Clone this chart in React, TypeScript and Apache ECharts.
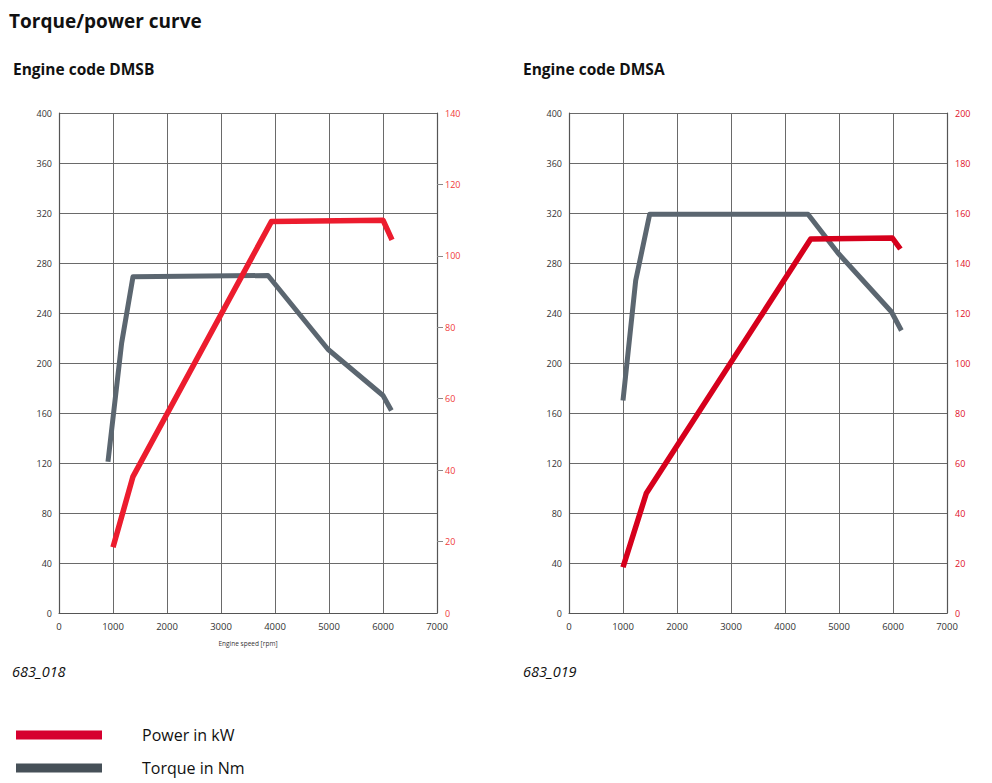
import React, { useEffect, useRef } from "react";
import * as echarts from "echarts";

// Engine speed (rpm) / value pairs
const dmsbTorque: [number, number][] = [
  [907, 121], [1160, 216], [1370, 269], [3870, 270], [4980, 211], [6000, 174], [6155, 162],
];
const dmsbPower: [number, number][] = [
  [1000, 18.4], [1370, 38.2], [3933, 109.6], [6000, 110], [6167, 104.5],
];
const dmsaTorque: [number, number][] = [
  [1000, 170], [1235, 266], [1494, 319], [4426, 319], [4981, 288], [5970, 241], [6155, 226],
];
const dmsaPower: [number, number][] = [
  [1000, 18.3], [1432, 47.9], [4476, 149.6], [5988, 150], [6137, 145.6],
];

const legendNames = ["Power in kW", "Torque in Nm"];
const headings = ["Torque/power curve", "Engine code DMSB", "Engine code DMSA"];
const figureCodes = ["683_018", "683_019"];
const xAxisName = "Engine speed [rpm]";

const FONT = "'Open Sans', 'Noto Sans', sans-serif";
const GRID_COLOR = "#6a6a6a";
const AXIS_COLOR = "#555";
const TORQUE_COLOR = "#5b6670";
const POWER_LEFT = "#ec1c2e";
const POWER_RIGHT = "#d6001c";

export default function App() {
  const ref = useRef<HTMLDivElement>(null);

  useEffect(() => {
    if (!ref.current) return;
    const chart = echarts.init(ref.current, undefined, { renderer: "svg" });

    const plain = (v: number) => String(v);

    const xAxisBase = (gridIndex: number, withName: boolean) => ({
      type: "value",
      gridIndex,
      min: 0,
      max: 7000,
      interval: 1000,
      name: withName ? xAxisName : "",
      nameLocation: "middle",
      nameGap: 27,
      nameTextStyle: { fontSize: 6.5, color: "#333", fontFamily: FONT },
      axisLine: { show: true, lineStyle: { color: AXIS_COLOR, width: 1.2 } },
      axisTick: { show: false },
      axisLabel: { fontSize: 9.5, color: "#333", margin: 8, fontFamily: FONT, formatter: plain },
      splitLine: { show: true, lineStyle: { color: GRID_COLOR, width: 1 } },
    });

    const leftY = (gridIndex: number) => ({
      type: "value",
      gridIndex,
      min: 0,
      max: 400,
      interval: 40,
      position: "left",
      axisLine: { show: true, lineStyle: { color: AXIS_COLOR, width: 1.2 } },
      axisTick: { show: false },
      axisLabel: { fontSize: 9, color: "#333", margin: 7, fontFamily: FONT, formatter: plain },
      splitLine: { show: true, lineStyle: { color: GRID_COLOR, width: 1 } },
    });

    const rightY = (gridIndex: number, max: number, color: string, ticks: boolean) => ({
      type: "value",
      gridIndex,
      min: 0,
      max,
      interval: 20,
      position: "right",
      axisLine: { show: true, onZero: false, lineStyle: { color: AXIS_COLOR, width: 1.2 } },
      axisTick: {
        show: ticks,
        inside: false,
        length: 6,
        customValues: [20, 40, 60, 80, 100, 120],
        lineStyle: { color: "#888", width: 1 },
      },
      axisLabel: { fontSize: 9, color, margin: 8, fontFamily: FONT, formatter: plain },
      splitLine: { show: false },
    });

    const lineSeries = (
      name: string,
      data: [number, number][],
      xi: number,
      yi: number,
      color: string,
      width: number
    ) => ({
      type: "line",
      name,
      data,
      xAxisIndex: xi,
      yAxisIndex: yi,
      showSymbol: false,
      symbol: "none",
      lineStyle: { color, width, join: "round", cap: "butt" },
      itemStyle: { color },
      z: 3,
    });

    const titleText = (text: string, left: number, top: number, size: number, bold: boolean, italic = false) => ({
      text,
      left,
      top,
      padding: 0,
      textStyle: {
        fontSize: size,
        fontWeight: bold ? "bold" : "normal",
        fontStyle: italic ? "italic" : "normal",
        color: "#111",
        fontFamily: FONT,
      },
    });

    const legendItem = (name: string, color: string, top: number) => ({
      orient: "vertical",
      left: 16,
      top,
      padding: 0,
      icon: "rect",
      itemWidth: 86,
      itemHeight: 9,
      selectedMode: false,
      textStyle: {
        fontSize: 16,
        color: "#111",
        fontFamily: FONT,
        lineHeight: 18,
        padding: [0, 0, 0, 35],
      },
      data: [{ name, itemStyle: { color } }],
    });

    chart.setOption({
      animation: false,
      backgroundColor: "#fff",
      textStyle: { fontFamily: FONT },
      title: [
        titleText(headings[0], 9, 11, 19, true),
        titleText(headings[1], 13, 61, 15.5, true),
        titleText(headings[2], 523, 61, 15.5, true),
        titleText(figureCodes[0], 12, 664, 14.5, false, true),
        titleText(figureCodes[1], 523, 664, 14.5, false, true),
      ],
      legend: [
        legendItem(legendNames[0], "#d6002f", 726),
        legendItem(legendNames[1], "#465058", 759),
      ],
      grid: [
        { left: 59, top: 113, width: 378, height: 500, containLabel: false },
        { left: 569, top: 113, width: 378, height: 500, containLabel: false },
      ],
      xAxis: [xAxisBase(0, true), xAxisBase(1, false)],
      yAxis: [
        leftY(0),
        rightY(0, 140, "#f03a3a", true),
        leftY(1),
        rightY(1, 200, "#e0102a", false),
      ],
      series: [
        lineSeries(legendNames[1], dmsbTorque, 0, 0, TORQUE_COLOR, 5),
        lineSeries(legendNames[0], dmsbPower, 0, 1, POWER_LEFT, 5.5),
        lineSeries(legendNames[1], dmsaTorque, 1, 2, TORQUE_COLOR, 5),
        lineSeries(legendNames[0], dmsaPower, 1, 3, POWER_RIGHT, 5.5),
      ],
    });

    return () => chart.dispose();
  }, []);

  return (
    <div
      style={{
        position: "fixed",
        left: 0,
        top: 0,
        width: 992,
        height: 783,
        background: "#fff",
      }}
    >
      <div ref={ref} style={{ width: 992, height: 783 }} />
    </div>
  );
}
